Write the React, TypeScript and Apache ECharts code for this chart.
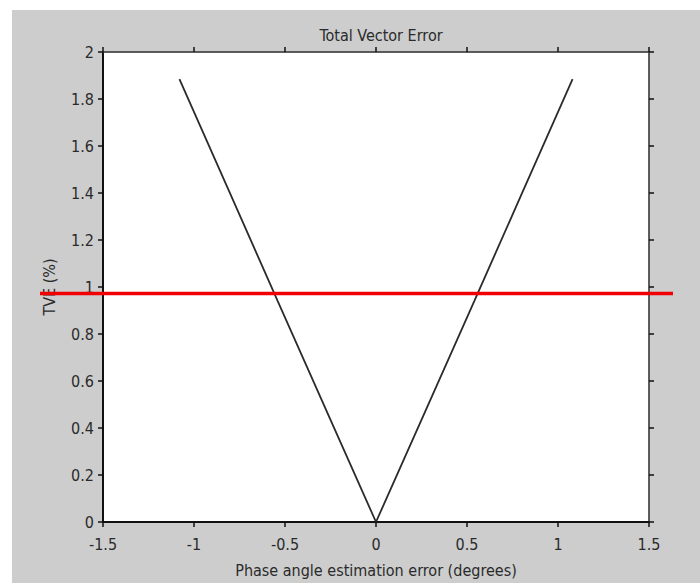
import React, { useEffect, useRef } from "react";
import * as echarts from "echarts";

// Phase angle estimation error (degrees) vs TVE (%)
const phaseError: number[] = [-1.08, -0.8, -0.54, -0.27, 0, 0.27, 0.54, 0.8, 1.08];
const tveValues: number[] = [1.885, 1.395, 0.94, 0.47, 0, 0.47, 0.94, 1.395, 1.885];

// 1% TVE limit (marked in red)
const tveLimit = 0.975;

const xTicks: number[] = [-1.5, -1, -0.5, 0, 0.5, 1, 1.5];
const yTicks: number[] = [0, 0.2, 0.4, 0.6, 0.8, 1, 1.2, 1.4, 1.6, 1.8, 2];

const FONT = "'Liberation Sans Narrow', 'DejaVu Sans Condensed', Arial, sans-serif";
const TEXT = "#2a2a2a";

export default function App() {
  const ref = useRef<HTMLDivElement>(null);

  useEffect(() => {
    if (!ref.current) return;
    const chart = echarts.init(ref.current, undefined, { renderer: "svg" });

    const curve = phaseError.map((x, i) => [x, tveValues[i]]);

    const tickStyle = { show: true, length: 5, inside: false, lineStyle: { color: "#111", width: 1.5 } };

    chart.setOption({
      animation: false,
      backgroundColor: "#ffffff",
      textStyle: { fontFamily: FONT },
      graphic: [
        {
          type: "rect",
          z: -10,
          silent: true,
          shape: { x: 12, y: 10, width: 688, height: 573 },
          style: { fill: "#cdcdcd" },
        },
      ],
      title: {
        text: "Total Vector Error",
        left: 376,
        textAlign: "center",
        top: 22,
        textStyle: { fontFamily: FONT, fontSize: 16, fontWeight: "normal", color: TEXT },
      },
      grid: [
        {
          left: 103,
          right: 51,
          top: 52,
          bottom: 60,
          show: true,
          backgroundColor: "#ffffff",
          borderColor: "#555",
          borderWidth: 1,
        },
        { left: 40, right: 27, top: 52, bottom: 60, show: false },
      ],
      xAxis: [
        {
          type: "value",
          gridIndex: 0,
          min: -1.5,
          max: 1.5,
          interval: 0.5,
          name: "Phase angle estimation error (degrees)",
          nameLocation: "middle",
          nameGap: 40,
          nameTextStyle: { fontFamily: FONT, fontSize: 16, color: TEXT },
          axisLine: { show: true, onZero: false, lineStyle: { color: "#111", width: 2 } },
          axisTick: tickStyle,
          axisLabel: {
            fontFamily: FONT,
            fontSize: 16,
            color: TEXT,
            margin: 14,
            formatter: (v: number) => (xTicks.includes(v) ? String(v) : ""),
          },
          splitLine: { show: false },
        },
        {
          type: "value",
          gridIndex: 0,
          position: "top",
          min: -1.5,
          max: 1.5,
          interval: 0.5,
          axisLine: { show: true, onZero: false, lineStyle: { color: "#444", width: 1.5 } },
          axisTick: tickStyle,
          axisLabel: { show: false },
          splitLine: { show: false },
        },
        { type: "value", gridIndex: 1, min: 0, max: 1, show: false },
      ],
      yAxis: [
        {
          type: "value",
          gridIndex: 0,
          min: 0,
          max: 2,
          interval: 0.2,
          name: "TVE (%)",
          nameLocation: "middle",
          nameGap: 46,
          nameTextStyle: { fontFamily: FONT, fontSize: 16, color: TEXT },
          axisLine: { show: true, onZero: false, lineStyle: { color: "#111", width: 2 } },
          axisTick: tickStyle,
          axisLabel: {
            fontFamily: FONT,
            fontSize: 16,
            color: TEXT,
            margin: 9,
            formatter: (v: number) => {
              const r = Math.round(v * 10) / 10;
              return yTicks.includes(r) ? String(r) : "";
            },
          },
          splitLine: { show: false },
        },
        {
          type: "value",
          gridIndex: 0,
          position: "right",
          min: 0,
          max: 2,
          interval: 0.2,
          axisLine: { show: true, onZero: false, lineStyle: { color: "#444", width: 1.5 } },
          axisTick: tickStyle,
          axisLabel: { show: false },
          splitLine: { show: false },
        },
        { type: "value", gridIndex: 1, min: 0, max: 2, show: false },
      ],
      series: [
        {
          type: "line",
          xAxisIndex: 0,
          yAxisIndex: 0,
          data: curve,
          showSymbol: false,
          symbol: "none",
          lineStyle: { color: "#2b2b2b", width: 1.8 },
          z: 3,
        },
        {
          type: "line",
          xAxisIndex: 2,
          yAxisIndex: 2,
          data: [
            [0, tveLimit],
            [1, tveLimit],
          ],
          showSymbol: false,
          symbol: "none",
          lineStyle: { color: "#f00000", width: 3.5 },
          z: 10,
        },
      ],
    });

    return () => chart.dispose();
  }, []);

  return (
    <div
      ref={ref}
      style={{ position: "absolute", left: 0, top: 0, width: 700, height: 583 }}
    />
  );
}
